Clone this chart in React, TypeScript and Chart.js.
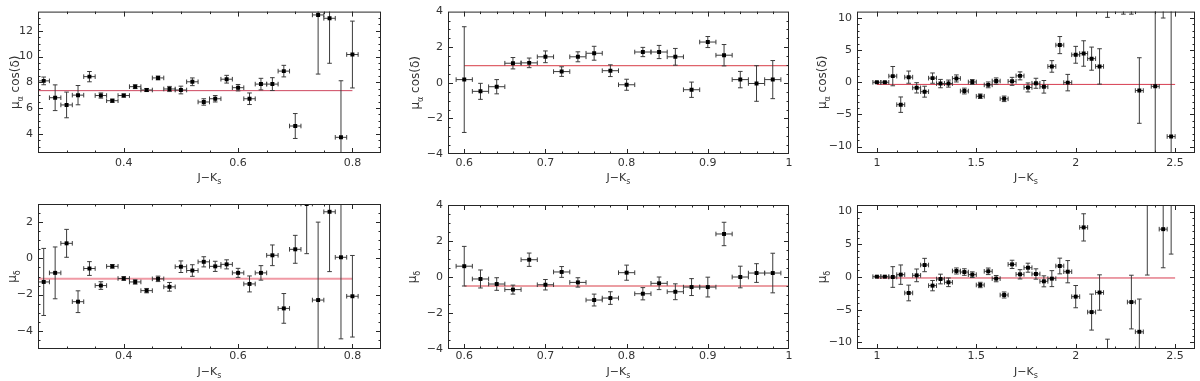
import React, { useEffect, useRef } from "react";
import { Chart, registerables } from "chart.js";
Chart.register(...registerables);

// ---------- DATA ----------
// Column 1: blue bins (J-Ks)
const jkBlue = [0.26, 0.28, 0.30, 0.32, 0.34, 0.36, 0.38, 0.40, 0.42, 0.44, 0.46, 0.48, 0.50, 0.52, 0.54, 0.56, 0.58, 0.60, 0.62, 0.64, 0.66, 0.68, 0.70, 0.72, 0.74, 0.76, 0.78, 0.80];
const pmraBlue = [8.11, 6.80, 6.24, 7.00, 8.44, 6.97, 6.57, 6.97, 7.66, 7.40, 8.34, 7.48, 7.40, 8.04, 6.47, 6.72, 8.24, 7.58, 6.72, 7.86, 7.86, 8.87, 4.60, null, 13.24, 12.98, 3.72, 10.16];
const pmraBlueErr = [0.30, 1.00, 1.00, 0.75, 0.40, 0.20, 0.12, 0.12, 0.15, 0.12, 0.15, 0.20, 0.30, 0.30, 0.25, 0.25, 0.30, 0.25, 0.45, 0.45, 0.50, 0.45, 0.97, null, 4.60, 3.50, 4.40, 2.60];
const pmdeBlue = [-1.30, -0.80, 0.83, -2.39, -0.56, -1.50, -0.44, -1.11, -1.30, -1.78, -1.13, -1.57, -0.46, -0.67, -0.19, -0.44, -0.33, -0.80, -1.41, -0.80, 0.17, -2.76, 0.50, 3.00, -2.30, 2.57, 0.06, -2.09];
const pmdeBlueErr = [1.85, 1.43, 0.77, 0.60, 0.38, 0.21, 0.10, 0.10, 0.12, 0.12, 0.15, 0.24, 0.32, 0.32, 0.28, 0.28, 0.25, 0.25, 0.44, 0.40, 0.57, 0.82, 0.77, 2.74, 4.30, 3.30, 4.50, 2.25];
const jkBlueHalfBin = 0.01;
const meanRaBlue = 7.35;
const meanDeBlue = -1.13;
const meanSpanBlue = [0.25, 0.80];

// Column 2: middle bins
const jkMid = [0.60, 0.62, 0.64, 0.66, 0.68, 0.70, 0.72, 0.74, 0.76, 0.78, 0.80, 0.82, 0.84, 0.86, 0.88, 0.90, 0.92, 0.94, 0.96, 0.98];
const pmraMid = [0.18, -0.48, -0.22, 1.10, 1.12, 1.46, 0.63, 1.46, 1.66, 0.68, -0.11, 1.73, 1.73, 1.46, -0.39, 2.29, 1.55, 0.18, -0.04, 0.18];
const pmraMidErr = [2.97, 0.45, 0.40, 0.32, 0.27, 0.33, 0.27, 0.28, 0.39, 0.33, 0.31, 0.26, 0.37, 0.47, 0.43, 0.31, 0.60, 0.46, 1.00, 1.07];
const pmdeMid = [0.60, -0.11, -0.39, -0.70, 0.96, -0.43, 0.28, -0.30, -1.28, -1.17, 0.24, -0.93, -0.35, -0.82, -0.56, -0.56, 2.39, 0.00, 0.22, 0.22];
const pmdeMidErr = [1.10, 0.50, 0.35, 0.25, 0.37, 0.29, 0.30, 0.26, 0.33, 0.35, 0.42, 0.34, 0.35, 0.44, 0.47, 0.55, 0.65, 0.60, 0.52, 1.10];
const jkMidHalfBin = 0.01;
const meanRaMid = 0.96;
const meanDeMid = -0.50;
const meanSpanMid = [0.60, 1.00];

// Column 3: red bins
const jkRed = [1.00, 1.04, 1.08, 1.12, 1.16, 1.20, 1.24, 1.28, 1.32, 1.36, 1.40, 1.44, 1.48, 1.52, 1.56, 1.60, 1.64, 1.68, 1.72, 1.76, 1.80, 1.84, 1.88, 1.92, 1.96, 2.00, 2.04, 2.08, 2.12, 2.16, 2.20, 2.24, 2.28, 2.32, 2.36, 2.40, 2.44, 2.48];
const pmraRed = [0.00, 0.00, 0.96, -3.48, 0.80, -0.86, -1.46, 0.65, -0.20, -0.20, 0.60, -1.36, 0.05, -2.17, -0.40, 0.20, -2.57, 0.15, 1.00, -0.80, -0.15, -0.70, 2.47, 5.79, -0.05, 4.28, 4.48, 3.68, 2.47, 14.0, null, 16.0, 13.0, -1.28, null, -0.63, 15.0, -8.43];
const pmraRedErr = [0.10, 0.10, 1.50, 1.20, 0.95, 0.80, 0.85, 0.80, 0.65, 0.55, 0.55, 0.45, 0.38, 0.35, 0.45, 0.48, 0.43, 0.62, 0.62, 0.70, 0.78, 0.98, 0.90, 1.33, 1.28, 1.31, 1.98, 1.80, 2.75, 3.90, null, 5.40, 2.40, 5.10, null, 15.0, 5.00, 20.0];
const pmdeRed = [0.05, 0.05, 0.00, 0.36, -2.44, 0.25, 1.83, -1.32, -0.31, -0.81, 0.92, 0.76, 0.36, -1.22, 0.87, -0.25, -2.75, 1.93, 0.41, 1.42, 0.46, -0.66, -0.25, 1.68, 0.81, -3.00, 7.58, -5.36, -2.37, -13.0, null, null, -3.83, -8.37, 12.0, null, 7.31, 13.0];
const pmdeRedErr = [0.10, 0.10, 1.58, 1.48, 1.20, 0.97, 1.02, 0.79, 0.74, 0.66, 0.46, 0.50, 0.43, 0.41, 0.50, 0.48, 0.46, 0.63, 0.71, 0.69, 0.79, 0.84, 1.22, 1.20, 1.70, 1.70, 2.08, 2.75, 2.70, 3.50, null, null, 4.10, 5.00, 11.7, null, 5.90, 9.50];
const jkRedHalfBin = 0.02;
const meanRaRed = -0.33;
const meanDeRed = -0.15;
const meanSpanRed = [1.00, 2.50];

// Tick labels
const xTicksBlue = [0.4, 0.6, 0.8];
const xTicksMid = [0.6, 0.7, 0.8, 0.9, 1];
const xTicksRed = [1, 1.5, 2, 2.5];
const yTicksRaBlue = [4, 6, 8, 10, 12];
const yTicksDeBlue = [-4, -2, 0, 2];
const yTicksMid = [-4, -2, 0, 2, 4];
const yTicksRed = [-10, -5, 0, 5, 10];

// ---------- STYLE / LAYOUT ----------
const FONT = "'DejaVu Sans', sans-serif";
const INK = "#262626";
const TXT = "#333333";
const BAR = "#3c3c3c";

type Seg = { t: string; sub?: boolean };
const titleRA: Seg[] = [{ t: "μ" }, { t: "α", sub: true }, { t: " cos(δ)" }];
const titleDE: Seg[] = [{ t: "μ" }, { t: "δ", sub: true }];
const titleX: Seg[] = [{ t: "J−K" }, { t: "s", sub: true }];

type Panel = {
  xs: number[]; ys: (number | null)[]; es: (number | null)[]; xerr: number;
  mean: number; meanSpan: number[];
  xr: number[]; yr: number[]; xTicks: number[]; yTicks: number[];
  xMinor: number; yMinor: number; xMajor: number; yMajor: number;
  yTitle: Seg[];
  box: { x: number; y: number; w: number; h: number };
  area: { left: number; top: number; right: number; bottom: number };
  yTitleX: number; xTitleY: number; xPad: number;
  lineColor: string; lineWidth: number;
};

const panels: Panel[] = [
  {
    xs: jkBlue, ys: pmraBlue, es: pmraBlueErr, xerr: jkBlueHalfBin, mean: meanRaBlue, meanSpan: meanSpanBlue,
    xr: [0.25, 0.85], yr: [2.5, 13.5], xTicks: xTicksBlue, yTicks: yTicksRaBlue, xMajor: 0.2, xMinor: 0.05, yMajor: 2, yMinor: 0.5,
    yTitle: titleRA, box: { x: 0, y: 0, w: 400, h: 190 }, area: { left: 38, top: 8, right: 381, bottom: 153 },
    yTitleX: 15, xTitleY: 177, xPad: 4, lineColor: "rgb(205,70,95)", lineWidth: 1,
  },
  {
    xs: jkMid, ys: pmraMid, es: pmraMidErr, xerr: jkMidHalfBin, mean: meanRaMid, meanSpan: meanSpanMid,
    xr: [0.58, 1.0], yr: [-4, 4], xTicks: xTicksMid, yTicks: yTicksMid, xMajor: 0.1, xMinor: 0.02, yMajor: 2, yMinor: 0.5,
    yTitle: titleRA, box: { x: 400, y: 0, w: 400, h: 190 }, area: { left: 48, top: 8, right: 389, bottom: 154 },
    yTitleX: 15, xTitleY: 177, xPad: 3, lineColor: "rgb(215,60,70)", lineWidth: 1,
  },
  {
    xs: jkRed, ys: pmraRed, es: pmraRedErr, xerr: jkRedHalfBin, mean: meanRaRed, meanSpan: meanSpanRed,
    xr: [0.9, 2.6], yr: [-11, 11], xTicks: xTicksRed, yTicks: yTicksRed, xMajor: 0.5, xMinor: 0.1, yMajor: 5, yMinor: 1,
    yTitle: titleRA, box: { x: 800, y: 0, w: 400, h: 190 }, area: { left: 57, top: 8, right: 398, bottom: 153 },
    yTitleX: 22, xTitleY: 177, xPad: 4, lineColor: "rgb(215,60,80)", lineWidth: 1,
  },
  {
    xs: jkBlue, ys: pmdeBlue, es: pmdeBlueErr, xerr: jkBlueHalfBin, mean: meanDeBlue, meanSpan: meanSpanBlue,
    xr: [0.25, 0.85], yr: [-5, 3], xTicks: xTicksBlue, yTicks: yTicksDeBlue, xMajor: 0.2, xMinor: 0.05, yMajor: 2, yMinor: 0.5,
    yTitle: titleDE, box: { x: 0, y: 190, w: 400, h: 191 }, area: { left: 38, top: 14, right: 381, bottom: 159 },
    yTitleX: 12, xTitleY: 181, xPad: 1, lineColor: "rgba(235,120,135,0.75)", lineWidth: 2,
  },
  {
    xs: jkMid, ys: pmdeMid, es: pmdeMidErr, xerr: jkMidHalfBin, mean: meanDeMid, meanSpan: meanSpanMid,
    xr: [0.58, 1.0], yr: [-4, 4], xTicks: xTicksMid, yTicks: yTicksMid, xMajor: 0.1, xMinor: 0.02, yMajor: 2, yMinor: 0.5,
    yTitle: titleDE, box: { x: 400, y: 190, w: 400, h: 191 }, area: { left: 48, top: 15, right: 389, bottom: 159 },
    yTitleX: 12, xTitleY: 181, xPad: 1, lineColor: "rgb(215,60,70)", lineWidth: 1,
  },
  {
    xs: jkRed, ys: pmdeRed, es: pmdeRedErr, xerr: jkRedHalfBin, mean: meanDeRed, meanSpan: meanSpanRed,
    xr: [0.9, 2.6], yr: [-11, 11], xTicks: xTicksRed, yTicks: yTicksRed, xMajor: 0.5, xMinor: 0.1, yMajor: 5, yMinor: 1,
    yTitle: titleDE, box: { x: 800, y: 190, w: 400, h: 191 }, area: { left: 57, top: 15, right: 398, bottom: 159 },
    yTitleX: 22, xTitleY: 181, xPad: 1, lineColor: "rgb(215,60,80)", lineWidth: 1,
  },
];

function fmt(v: number) {
  const s = String(Math.round(v * 1000) / 1000);
  return s.replace("-", "−");
}

function drawSegs(ctx: CanvasRenderingContext2D, segs: Seg[], cx: number, cy: number, size: number) {
  const main = `${size}px ${FONT}`;
  const sub = `${Math.round(size * 0.7)}px ${FONT}`;
  let w = 0;
  segs.forEach((s) => { ctx.font = s.sub ? sub : main; w += ctx.measureText(s.t).width; });
  let x = cx - w / 2;
  ctx.textAlign = "left";
  ctx.textBaseline = "alphabetic";
  const base = cy + size * 0.36;
  segs.forEach((s) => {
    ctx.font = s.sub ? sub : main;
    ctx.fillText(s.t, x, base + (s.sub ? size * 0.28 : 0));
    x += ctx.measureText(s.t).width;
  });
}

function tickValues(min: number, max: number, step: number) {
  const out: number[] = [];
  const i0 = Math.ceil(min / step - 1e-9);
  const i1 = Math.floor(max / step + 1e-9);
  for (let i = i0; i <= i1; i++) out.push(i * step);
  return out;
}

function decorPlugin(p: Panel) {
  return {
    id: "decor",
    afterDatasetsDraw(chart: any) {
      const { ctx, chartArea: a, scales } = chart;
      const xs = scales.x, ys = scales.y;
      ctx.save();
      ctx.strokeStyle = INK;
      ctx.lineWidth = 1;
      ctx.strokeRect(a.left + 0.5, a.top + 0.5, a.right - a.left - 1, a.bottom - a.top - 1);
      const isMajor = (v: number, m: number) => Math.abs(v / m - Math.round(v / m)) < 1e-6;
      ctx.beginPath();
      tickValues(p.xr[0], p.xr[1], p.xMinor).forEach((v) => {
        const px = Math.round(xs.getPixelForValue(v)) + 0.5;
        if (px <= a.left + 1 || px >= a.right - 1) return;
        const len = isMajor(v, p.xMajor) ? 5 : 2.5;
        ctx.moveTo(px, a.bottom); ctx.lineTo(px, a.bottom - len);
        ctx.moveTo(px, a.top); ctx.lineTo(px, a.top + len);
      });
      tickValues(p.yr[0], p.yr[1], p.yMinor).forEach((v) => {
        const py = Math.round(ys.getPixelForValue(v)) + 0.5;
        if (py <= a.top + 1 || py >= a.bottom - 1) return;
        const len = isMajor(v, p.yMajor) ? 5 : 2.5;
        ctx.moveTo(a.left, py); ctx.lineTo(a.left + len, py);
        ctx.moveTo(a.right, py); ctx.lineTo(a.right - len, py);
      });
      ctx.stroke();
      ctx.fillStyle = TXT;
      drawSegs(ctx, titleX, (a.left + a.right) / 2, p.xTitleY, 11);
      ctx.save();
      ctx.translate(p.yTitleX, (a.top + a.bottom) / 2);
      ctx.rotate(-Math.PI / 2);
      drawSegs(ctx, p.yTitle, 0, 0, 12);
      ctx.restore();
      ctx.restore();
    },
  };
}

function buildConfig(p: Panel): any {
  const pts: any[] = [], hbar: any[] = [], vbar: any[] = [];
  p.xs.forEach((x, i) => {
    const y = p.ys[i];
    const e = p.es[i];
    if (y == null || e == null) return;
    pts.push({ x, y });
    hbar.push({ x: x - p.xerr, y }, { x: x + p.xerr, y }, { x, y: null });
    vbar.push({ x, y: y - e }, { x, y: y + e }, { x, y: null });
  });
  const mean = [{ x: p.meanSpan[0], y: p.mean }, { x: p.meanSpan[1], y: p.mean }];
  const tickFont = { family: FONT, size: 11 };
  return {
    type: "scatter",
    data: {
      datasets: [
        { data: pts, pointStyle: "rect", pointRadius: 2.8, pointBackgroundColor: "#000", pointBorderWidth: 0, showLine: false, order: 0 },
        { data: hbar, showLine: true, spanGaps: false, borderColor: BAR, borderWidth: 1, pointStyle: "line", pointRotation: 90, pointRadius: 2.3, pointBorderColor: BAR, pointBorderWidth: 1, order: 1 },
        { data: vbar, showLine: true, spanGaps: false, borderColor: BAR, borderWidth: 1, pointStyle: "line", pointRotation: 0, pointRadius: 2.3, pointBorderColor: BAR, pointBorderWidth: 1, order: 1 },
        { data: mean, showLine: true, borderColor: p.lineColor, borderWidth: p.lineWidth, pointRadius: 0, order: 2 },
      ],
    },
    options: {
      animation: false,
      responsive: false,
      events: [],
      layout: { padding: { left: 0, bottom: 0, top: p.area.top, right: p.box.w - p.area.right } },
      plugins: { legend: { display: false }, tooltip: { enabled: false } },
      scales: {
        x: {
          type: "linear", min: p.xr[0], max: p.xr[1],
          afterBuildTicks: (s: any) => { s.ticks = p.xTicks.map((v) => ({ value: v })); },
          afterFit: (s: any) => { s.height = p.box.h - p.area.bottom; },
          grid: { display: false, drawTicks: false },
          border: { display: false },
          ticks: { callback: (v: any) => fmt(Number(v)), font: tickFont, color: TXT, padding: p.xPad, maxRotation: 0, autoSkip: false },
        },
        y: {
          type: "linear", min: p.yr[0], max: p.yr[1],
          afterBuildTicks: (s: any) => { s.ticks = p.yTicks.map((v) => ({ value: v })); },
          afterFit: (s: any) => { s.width = p.area.left; },
          grid: { display: false, drawTicks: false },
          border: { display: false },
          ticks: { callback: (v: any) => fmt(Number(v)), font: tickFont, color: TXT, padding: 5, autoSkip: false },
        },
      },
    },
    plugins: [decorPlugin(p)],
  };
}

function PanelChart({ p }: { p: Panel }) {
  const ref = useRef<HTMLCanvasElement | null>(null);
  useEffect(() => {
    if (!ref.current) return;
    const chart = new Chart(ref.current, buildConfig(p));
    return () => chart.destroy();
  }, [p]);
  return (
    <canvas
      ref={ref}
      width={p.box.w}
      height={p.box.h}
      style={{ position: "absolute", left: p.box.x, top: p.box.y, width: p.box.w, height: p.box.h }}
    />
  );
}

export default function App() {
  return (
    <div style={{ position: "fixed", left: 0, top: 0, width: 1200, height: 381, background: "#fff", overflow: "hidden" }}>
      {panels.map((p, i) => (
        <PanelChart key={i} p={p} />
      ))}
    </div>
  );
}
